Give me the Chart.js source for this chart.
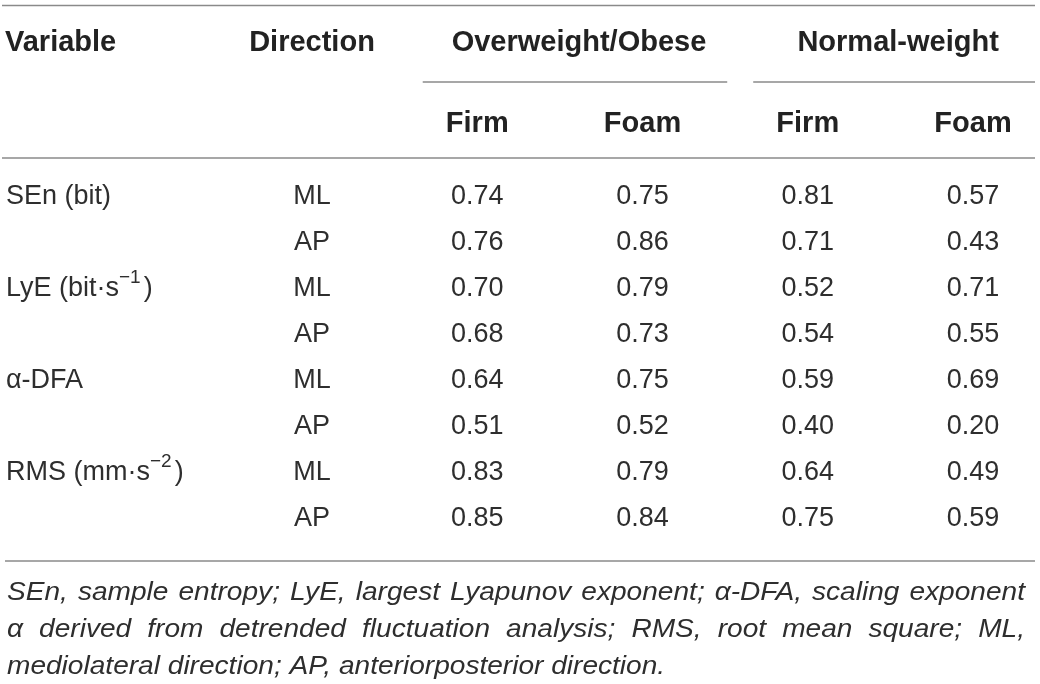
<!DOCTYPE html>
<html>
<head>
<meta charset="utf-8">
<script src="https://cdn.jsdelivr.net/npm/chart.js@4.4.1/dist/chart.umd.min.js"></script>
<style>
  html, body { margin: 0; padding: 0; background: #fff; }
  #wrap { width: 1040px; height: 684px; }
</style>
</head>
<body>
<div id="wrap"><canvas id="tbl" width="1040" height="684"></canvas></div>
<script>
// 表格数据：行 = 变量 × 方向，列 = 群体 × 地面条件
const rowKeys = ["SEn-ML", "SEn-AP", "LyE-ML", "LyE-AP", "DFA-ML", "DFA-AP", "RMS-ML", "RMS-AP"];
const variables = ["SEn (bit)", "", "LyE (bit·s^{−1})", "", "α-DFA", "", "RMS (mm·s^{−2})", ""];
const directions = ["ML", "AP", "ML", "AP", "ML", "AP", "ML", "AP"];

const colKeys = ["dir", "ow-firm", "ow-foam", "nw-firm", "nw-foam"];
const groups = ["Overweight/Obese", "Normal-weight"];
const surfaces = ["Firm", "Foam"];

const owFirm = [0.74, 0.76, 0.70, 0.68, 0.64, 0.51, 0.83, 0.85];
const owFoam = [0.75, 0.86, 0.79, 0.73, 0.75, 0.52, 0.79, 0.84];
const nwFirm = [0.81, 0.71, 0.52, 0.54, 0.59, 0.40, 0.64, 0.75];
const nwFoam = [0.57, 0.43, 0.71, 0.55, 0.69, 0.20, 0.49, 0.59];

const footnote = [
  "SEn, sample entropy; LyE, largest Lyapunov exponent; α-DFA, scaling exponent",
  "α derived from detrended fluctuation analysis; RMS, root mean square; ML,",
  "mediolateral direction; AP, anteriorposterior direction.",
];

const FONT = "'Liberation Sans', Arial, Helvetica, sans-serif";
const INK = "#222", BODY = "#2e2e2e", RULE = "#8a8a8a";

const column = (key, texts) => ({
  data: rowKeys.map(r => ({ x: key, y: r })),
  cellText: texts,
  pointRadius: 0, showLine: false,
});

// 带上标的文字：形如 "s^{−1}"
const drawRich = (ctx, str, x, y, size) => {
  const parts = str.split(/\^\{(.*?)\}/);
  let cx = x;
  parts.forEach((p, i) => {
    if (!p) return;
    const sup = i % 2 === 1;
    ctx.font = `${sup ? Math.round(size * 0.7) : size}px ${FONT}`;
    ctx.fillText(p, cx, sup ? y - size * 0.4 : y);
    cx += ctx.measureText(p).width + (sup ? 3 : 0);
  });
};

// 两端对齐；sx 为水平拉伸系数
const justify = (ctx, text, x0, x1, y, sx) => {
  const words = text.split(" ");
  const w = words.map(s => ctx.measureText(s).width * sx);
  const gap = (x1 - x0 - w.reduce((a, b) => a + b, 0)) / (words.length - 1);
  let cx = x0;
  words.forEach((s, i) => { stretched(ctx, s, cx, y, sx); cx += w[i] + gap; });
};

const stretched = (ctx, s, x, y, sx) => {
  ctx.save();
  ctx.translate(x, y); ctx.scale(sx, 1);
  ctx.fillText(s, 0, 0);
  ctx.restore();
};

const hline = (ctx, x0, x1, y) => {
  ctx.beginPath(); ctx.moveTo(x0, y); ctx.lineTo(x1, y); ctx.stroke();
};

const tablePlugin = {
  id: "tableText",
  afterDatasetsDraw(chart) {
    const { ctx } = chart;
    const xs = chart.scales.x, ys = chart.scales.y;
    const colX = colKeys.map((_, i) => xs.getPixelForValue(i));
    const step = colX[2] - colX[1];
    const right = 1035;
    const y0 = ys.getPixelForValue(0), yN = ys.getPixelForValue(rowKeys.length - 1);
    const yHead = y0 - 154;
    const ySub = y0 - 73;
    const yLine = y0 - 115;

    ctx.save();
    // 横线
    ctx.strokeStyle = RULE; ctx.lineWidth = 1.6;
    hline(ctx, 2, right, 5.5);
    hline(ctx, 2, right, y0 - 39);
    hline(ctx, 5, right, yN + 42);
    const spans = groups.map((g, gi) => {
      const x0 = colX[1 + gi * 2] - step * 0.33;
      const x1 = gi < groups.length - 1 ? colX[3 + gi * 2] - step * 0.33 - 26 : right;
      hline(ctx, x0, x1, yLine);
      return (x0 + x1) / 2;
    });

    // 表头
    ctx.fillStyle = INK;
    ctx.font = `bold 29px ${FONT}`;
    ctx.textBaseline = "middle";
    ctx.textAlign = "left";
    ctx.fillText("Variable", 5, yHead);
    ctx.textAlign = "center";
    ctx.fillText("Direction", colX[0], yHead);
    groups.forEach((g, gi) => ctx.fillText(g, spans[gi] + 4, yHead));
    colX.slice(1).forEach((x, i) => ctx.fillText(surfaces[i % 2], x, ySub));

    // 单元格
    ctx.fillStyle = BODY;
    ctx.font = `27px ${FONT}`;
    chart.data.datasets.forEach((ds, di) => {
      chart.getDatasetMeta(di).data.forEach((pt, i) => {
        const v = ds.cellText[i];
        ctx.fillText(typeof v === "number" ? v.toFixed(2) : v, pt.x, pt.y);
      });
    });
    ctx.textAlign = "left";
    variables.forEach((v, i) => { if (v) drawRich(ctx, v, 6, ys.getPixelForValue(i), 27); });

    // 注释
    ctx.font = `italic 26px ${FONT}`;
    ctx.textBaseline = "alphabetic";
    const yb = yN + 81;
    footnote.forEach((line, i) => {
      const y = yb + i * 37;
      if (i < footnote.length - 1) justify(ctx, line, 7, 1025, y, 1.08);
      else stretched(ctx, line, 7, y, 1.08);
    });
    ctx.restore();
  },
};

new Chart(document.getElementById("tbl"), {
  type: "line",
  data: {
    datasets: [
      column("dir", directions),
      column("ow-firm", owFirm),
      column("ow-foam", owFoam),
      column("nw-firm", nwFirm),
      column("nw-foam", nwFoam),
    ],
  },
  options: {
    responsive: false, animation: false, devicePixelRatio: 1,
    layout: { padding: { left: 312, right: 67, top: 197, bottom: 165 } },
    plugins: { legend: { display: false }, tooltip: { enabled: false } },
    scales: {
      x: { type: "category", labels: colKeys, offset: false, display: false },
      y: { type: "category", labels: rowKeys, offset: false, display: false },
    },
  },
  plugins: [tablePlugin],
});
</script>
</body>
</html>
